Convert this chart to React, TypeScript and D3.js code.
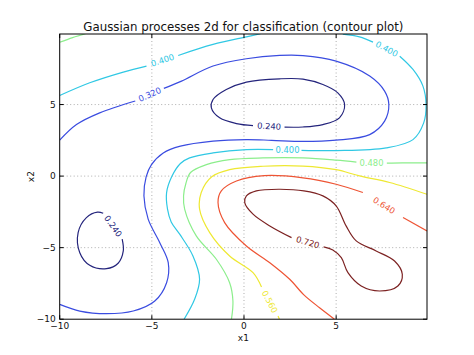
import React from 'react';
import * as d3 from 'd3';

type Pt = [number, number];

// contour levels and their (jet) colours
const levels = [0.24, 0.32, 0.4, 0.48, 0.56, 0.64, 0.72];
const levelColors = ['#24247c', '#3a4ce0', '#30c8e4', '#8cee8c', '#eee832', '#ee5434', '#7c2222'];

// contour lines, in data units (x1, x2), split at the inline labels
const contour024: Pt[][] = [
  [[2.2, 3.42], [3.2, 3.43], [4.28, 3.6], [5.18, 4.07], [5.46, 5.0], [5.09, 5.82], [4.28, 6.4], [3.2, 6.78],
   [1.94, 6.8], [0.13, 6.57], [-0.96, 6.05], [-1.68, 5.35], [-1.77, 4.77], [-1.32, 4.07], [-0.41, 3.67], [0.49, 3.53]],
  [[-7.64, -2.6], [-7.95, -2.52], [-8.55, -2.9], [-9.0, -3.95], [-8.91, -5.35], [-8.37, -6.23], [-7.46, -6.47],
   [-6.83, -6.09], [-6.55, -5.23], [-6.61, -4.4]],
];
const contour032: Pt[][] = [
  [[-10, 2.51], [-9.09, 3.6], [-7.83, 4.42], [-5.9, 5.25]],
  [[-4.35, 6.13], [-3.39, 6.64], [-1.68, 7.69], [0.13, 8.2], [1.94, 8.43], [3.2, 8.42], [5.0, 8.03], [6.82, 6.99],
   [7.63, 5.94], [7.86, 5.0], [7.63, 3.84], [6.82, 2.9], [5.0, 2.51], [3.2, 2.42], [1.5, 2.5], [0.13, 2.55],
   [-1.68, 2.44], [-3.45, 2.09], [-4.38, 1.62], [-5.02, 0.8], [-5.31, -0.06], [-5.43, -1.38], [-5.2, -3.01],
   [-4.57, -4.65], [-4.11, -6.05], [-4.2, -7.45], [-4.84, -8.73], [-6.01, -9.43], [-7.46, -9.61], [-8.91, -9.43],
   [-10, -8.96]],
];
const contour040: Pt[][] = [
  [[-10, 5.63], [-8.37, 6.52], [-6.55, 7.27], [-5.29, 7.69]],
  [[-3.57, 8.43], [-1.68, 9.2], [0.13, 9.73], [0.9, 9.95]],
  [[5.36, 9.92], [6.27, 9.73], [7.0, 9.36]],
  [[8.45, 8.38], [9.17, 7.45], [9.71, 6.29], [9.88, 5.0], [9.75, 3.72], [9.17, 2.55], [7.72, 1.97], [5.0, 1.78],
   [3.12, 1.8]],
  [[1.58, 1.85], [0.13, 1.85], [-1.68, 1.62], [-2.95, 1.27], [-3.45, 0.88], [-3.93, -0.06], [-4.2, -1.15],
   [-4.15, -2.31], [-3.95, -3.2], [-3.49, -4.06], [-2.77, -5.58], [-2.41, -7.21], [-2.68, -8.61], [-3.25, -10]],
];
const contour048: Pt[][] = [
  [[-10, 9.35], [-9.3, 9.68], [-8.6, 9.95]],
  [[9.93, 0.92], [8.6, 0.92], [7.75, 0.9]],
  [[6.1, 0.97], [5.0, 1.11], [3.2, 1.27], [1.03, 1.27], [-0.78, 1.15], [-2.04, 0.8], [-2.9, 0.25], [-3.15, -0.5],
   [-3.28, -1.38], [-3.22, -2.31], [-2.59, -4.18], [-1.5, -5.81], [-0.78, -7.45], [-0.6, -8.73], [-0.68, -10]],
];
const contour056: Pt[][] = [
  [[9.93, -1.27], [7.9, -0.45], [6.27, 0.01], [5.0, 0.45], [3.2, 0.7], [1.03, 0.69], [-0.78, 0.45], [-1.75, -0.05],
   [-2.32, -1.15], [-2.41, -2.31], [-1.86, -3.95], [-0.78, -5.58], [0.49, -6.75], [0.95, -7.75]],
  [[1.85, -9.78], [1.92, -10]],
];
const contour064: Pt[][] = [
  [[9.93, -3.83], [8.63, -2.9]],
  [[6.45, -1.15], [5.0, -0.57], [3.2, -0.12], [1.1, 0.03], [-0.41, -0.34], [-1.23, -1.03], [-1.41, -1.85],
   [-1.05, -3.25], [0.13, -4.88], [1.4, -6.05], [2.48, -7.21], [3.25, -8.3], [4.1, -9.2], [4.91, -10]],
];
const contour072: Pt[][] = [
  [[2.58, -4.3], [1.4, -3.48], [0.49, -2.66], [0.04, -1.85], [0.13, -1.38], [0.67, -1.03], [1.94, -0.92],
   [3.25, -1.03], [4.28, -1.38], [5.0, -2.08], [5.54, -3.48], [6.09, -4.53], [7.17, -5.23], [8.17, -5.93],
   [8.59, -6.86], [8.35, -7.68], [7.36, -8.03], [6.36, -7.68], [5.64, -6.75], [5.28, -5.7], [4.82, -5.16],
   [4.32, -4.95]],
];
const contourSegments = [contour024, contour032, contour040, contour048, contour056, contour064, contour072];

// inline labels: level index, position (data units), rotation on screen (deg)
const labelLevel = [2, 1, 0, 2, 2, 3, 5, 6, 4, 0];
const labelX = [-4.42, -5.12, 1.36, 2.36, 7.75, 6.92, 7.6, 3.46, 1.4, -7.1];
const labelY = [8.1, 5.7, 3.49, 1.85, 8.88, 0.9, -2.05, -4.62, -8.78, -3.5];
const labelAngle = [-18, -24, 3, 0, 28, 0, 32, 16, 62, 55];

const xTicks = [-10, -5, 0, 5];
const yTicks = [-10, -5, 0, 5];
const xDomain: Pt = [-10, 9.93];
const yDomain: Pt = [-10, 9.93];

const W = 474;
const H = 355;
const margin = { left: 59.7, right: 47, top: 34, bottom: 35.8 };
const font = 'DejaVu Sans, sans-serif';

const fmtTick = (t: number) => (t < 0 ? '\u2212' + Math.abs(t) : String(t));

export default function App() {
  const iw = W - margin.left - margin.right;
  const ih = H - margin.top - margin.bottom;
  const x = d3.scaleLinear().domain(xDomain).range([0, iw]);
  const y = d3.scaleLinear().domain(yDomain).range([ih, 0]);
  const line = d3.line<Pt>()
    .x(d => x(d[0]))
    .y(d => y(d[1]))
    .curve(d3.curveCatmullRom.alpha(0.5));

  return (
    <div style={{ position: 'fixed', left: 0, top: 0 }}>
      <svg width={W} height={H} style={{ display: 'block', background: '#fff' }}>
        <defs>
          <clipPath id="plot">
            <rect x={0} y={0} width={iw} height={ih} />
          </clipPath>
        </defs>
        <text x={margin.left + iw / 2} y={31} textAnchor="middle" fontFamily={font} fontSize={11.8} fill="#111">
          Gaussian processes 2d for classification (contour plot)
        </text>
        <g transform={`translate(${margin.left},${margin.top})`}>
          {/* grid */}
          {xTicks.slice(1).map(t => (
            <line key={'gx' + t} x1={x(t)} x2={x(t)} y1={0} y2={ih} stroke="#999" strokeWidth={0.8} strokeDasharray="1,2.5" />
          ))}
          {yTicks.slice(1).map(t => (
            <line key={'gy' + t} x1={0} x2={iw} y1={y(t)} y2={y(t)} stroke="#999" strokeWidth={0.8} strokeDasharray="1,2.5" />
          ))}
          {/* contours */}
          <g clipPath="url(#plot)" fill="none" strokeWidth={1.2}>
            {contourSegments.map((segs, li) =>
              segs.map((s, si) => (
                <path key={`c${li}-${si}`} d={line(s) || ''} stroke={levelColors[li]} />
              ))
            )}
          </g>
          {labelLevel.map((li, i) => (
            <text key={'l' + i}
              transform={`translate(${x(labelX[i])},${y(labelY[i])}) rotate(${labelAngle[i]})`}
              textAnchor="middle" dy="0.35em" fontFamily={font} fontSize={8.4} fill={levelColors[li]}>
              {levels[li].toFixed(3)}
            </text>
          ))}
          {/* frame */}
          <rect x={0} y={0} width={iw} height={ih} fill="none" stroke="#000" strokeWidth={1} />
          {/* ticks (inward, all sides) */}
          {xTicks.map(t => (
            <g key={'tx' + t}>
              <line x1={x(t)} x2={x(t)} y1={ih} y2={ih - 4} stroke="#000" />
              <line x1={x(t)} x2={x(t)} y1={0} y2={4} stroke="#000" />
              <text x={x(t)} y={ih + 10} textAnchor="middle" fontFamily={font} fontSize={9} fill="#111">
                {fmtTick(t)}
              </text>
            </g>
          ))}
          {yTicks.map(t => (
            <g key={'ty' + t}>
              <line x1={0} x2={4} y1={y(t)} y2={y(t)} stroke="#000" />
              <line x1={iw} x2={iw - 4} y1={y(t)} y2={y(t)} stroke="#000" />
              <text x={-4} y={y(t)} dy="0.35em" textAnchor="end" fontFamily={font} fontSize={9} fill="#111">
                {fmtTick(t)}
              </text>
            </g>
          ))}
          <text x={iw / 2} y={ih + 21.5} textAnchor="middle" fontFamily={font} fontSize={9} fill="#111">x1</text>
          <text transform={`translate(${-26},${ih / 2}) rotate(-90)`} textAnchor="middle" fontFamily={font} fontSize={9} fill="#111">x2</text>
        </g>
      </svg>
    </div>
  );
}
